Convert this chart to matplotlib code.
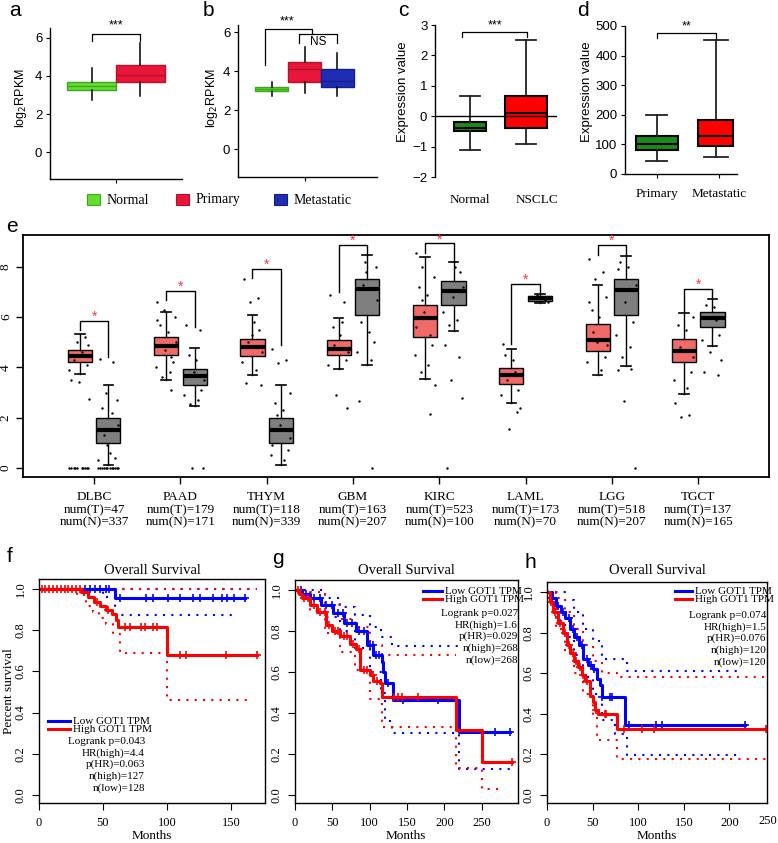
import matplotlib
matplotlib.use("Agg")
import matplotlib.pyplot as plt
import numpy as np
from matplotlib.lines import Line2D
from matplotlib.patches import Rectangle

W, H = 778, 843
SANS = ["Liberation Sans", "DejaVu Sans"]
SERIF = ["Liberation Serif", "DejaVu Serif"]
plt.rcParams["font.family"] = SANS
plt.rcParams["axes.linewidth"] = 1.0

# ---- data: panels a-d (whislo, q1, med, q3, whishi) ----
a_groups = ["Normal", "Primary"]
a_stats = [(2.75, 3.25, 3.45, 3.65, 4.4), (2.95, 3.7, 4.05, 4.55, 5.7)]
b_groups = ["Normal", "Primary", "Metastatic"]
b_stats = [(2.7, 3.0, 3.1, 3.2, 3.45), (2.9, 3.45, 4.1, 4.45, 5.25), (2.7, 3.2, 3.5, 4.1, 4.95)]
c_groups = ["Normal", "NSCLC"]
c_stats = [(-1.1, -0.5, -0.38, -0.2, 0.68), (-0.92, -0.38, 0.1, 0.68, 2.5)]
d_groups = ["Primary", "Metastatic"]
d_stats = [(45, 80, 100, 128, 198), (58, 95, 128, 182, 452)]

# ---- data: panel e ----
e_cancers = ["DLBC", "PAAD", "THYM", "GBM", "KIRC", "LAML", "LGG", "TGCT"]
e_num_t = [47, 179, 118, 163, 523, 173, 518, 137]
e_num_n = [337, 171, 339, 207, 100, 70, 207, 165]
e_tumor = [(3.72, 4.2, 4.45, 4.69, 5.33), (3.49, 4.49, 4.86, 5.22, 6.21), (3.69, 4.46, 4.82, 5.15, 6.08),
           (3.92, 4.49, 4.75, 5.09, 5.95), (3.53, 5.2, 5.95, 6.48, 8.38), (2.59, 3.36, 3.69, 3.98, 4.75),
           (3.69, 4.65, 5.11, 5.72, 7.28), (2.96, 4.2, 4.65, 5.13, 6.15)]
e_normal = [(0.1, 1.01, 1.5, 1.97, 3.29), (2.46, 3.29, 3.67, 3.92, 4.79), (0.1, 1.01, 1.5, 1.97, 3.29),
            (4.09, 6.08, 7.14, 7.5, 8.47), (5.46, 6.48, 7.04, 7.45, 8.21), (6.57, 6.65, 6.75, 6.84, 6.92),
            (4.05, 6.08, 7.1, 7.52, 8.45), (4.85, 5.62, 5.95, 6.22, 6.72)]
e_tumor_pts = [
    [0, 0, 0, 0, 0, 0, 0, 0, 0, 0, 2.76, 3.43, 3.5, 5.2, 5.0, 4.9, 4.3, 4.6, 4.1, 3.9],
    [6.6, 3.12, 6.3, 6.0, 5.7, 5.4, 4.2, 4.0, 3.8, 3.6, 5.0, 4.7, 5.9, 4.4],
    [7.5, 6.75, 6.6, 3.29, 3.4, 5.8, 5.5, 4.2, 3.9, 5.0, 4.6, 5.3],
    [6.88, 6.6, 2.9, 2.4, 5.6, 5.3, 4.3, 4.1, 5.8, 4.9, 4.6],
    [8.54, 2.16, 8.0, 7.6, 7.2, 6.9, 4.9, 4.5, 4.1, 3.8, 3.3, 6.2, 5.6, 5.3, 6.7],
    [4.95, 2.23, 1.54, 2.4, 4.5, 4.3, 3.1, 2.9, 3.8, 3.5],
    [8.3, 7.8, 7.5, 6.8, 6.3, 6.0, 4.4, 4.2, 3.9, 5.4, 4.9, 5.0, 6.6],
    [2.59, 2.1, 2.03, 6.0, 5.7, 5.5, 3.8, 3.5, 3.2, 4.8, 4.4],
]
e_normal_pts = [
    [0, 0, 0, 0, 0, 0, 0, 0, 0, 0, 0, 0, 4.35, 4.2, 3.0, 2.7, 2.4, 0.6, 0.4, 0.3, 2.2, 1.3, 1.7, 0.9],
    [5.68, 5.48, 0, 0, 4.5, 4.3, 3.1, 2.9, 2.7, 2.55, 3.5, 3.8],
    [4.75, 4.29, 4.16, 3.0, 2.6, 2.3, 0.7, 0.5, 0.3, 2.1, 1.2, 1.7, 0.9],
    [2.67, 0, 8.2, 8.0, 5.8, 5.4, 5.0, 4.6, 4.3, 7.3, 6.7, 7.8],
    [4.89, 4.42, 3.49, 2.8, 0, 8.0, 7.8, 6.2, 5.9, 5.7, 7.2, 6.8],
    [6.8, 6.7, 6.9, 6.6],
    [3.89, 3.95, 2.66, 0, 8.2, 8.0, 5.8, 5.3, 4.8, 4.4, 7.3, 6.6, 7.9],
    [3.82, 3.69, 4.6, 4.3, 6.5, 6.4, 5.3, 5.1, 5.9],
]
# significance brackets: (top, left leg end, right leg end)
e_brackets = [(5.86, 5.48, 4.4), (7.05, 6.68, 5.62), (7.91, 7.54, 4.89), (8.87, 7.01, 8.47),
              (8.94, 8.54, 8.21), (7.34, 4.95, 7.01), (8.87, 8.47, 8.47), (7.14, 6.18, 6.81)]

# ---- data: survival panels f, g, h ----
f_low_t = [0, 59, 161]
f_low_s = [1.0, 0.956, 0.956]
f_high_t = [0, 33, 38, 43, 48, 52, 57, 60, 62, 100, 170]
f_high_s = [1.0, 0.985, 0.96, 0.94, 0.92, 0.90, 0.88, 0.85, 0.815, 0.68, 0.68]
f_low_ci = ([0, 165], [1.0, 1.0], [0, 50, 59, 155], [1.0, 0.96, 0.874, 0.874])
f_high_ci = ([0, 170], [1.0, 1.0], [0, 30, 37, 42, 47, 52, 58, 63, 100, 166],
             [1.0, 0.97, 0.92, 0.89, 0.86, 0.83, 0.78, 0.69, 0.46, 0.46])
f_low_cens = [36, 40, 44, 48, 52, 55, 63, 84, 89, 101, 110, 120, 126, 136, 143, 147, 152, 161]
f_high_cens = [2, 5, 8, 11, 14, 17, 20, 23, 26, 29, 32, 45, 54, 67, 71, 80, 83, 89, 92, 110, 115, 146, 170]
f_stats = ["Logrank p=0.043", "HR(high)=4.4", "p(HR)=0.063", "n(high)=127", "n(low)=128"]

g_low_t = [0, 10, 20, 35, 51, 65, 82, 96, 105, 116, 118, 120, 129, 131, 220, 288]
g_low_s = [1.0, 0.98, 0.96, 0.93, 0.89, 0.84, 0.80, 0.73, 0.685, 0.65, 0.60, 0.545, 0.545, 0.464, 0.305, 0.305]
g_high_t = [0, 5, 10, 20, 30, 42, 50, 60, 73, 82, 87, 100, 105, 114, 116, 216, 250, 290]
g_high_s = [1.0, 0.98, 0.96, 0.93, 0.895, 0.83, 0.80, 0.775, 0.735, 0.715, 0.61, 0.585, 0.555, 0.545, 0.48,
            0.317, 0.159, 0.159]
g_low_ci = ([0, 20, 40, 60, 80, 100, 115, 130, 219], [1.0, 1.0, 0.96, 0.92, 0.88, 0.82, 0.77, 0.725, 0.725],
            [0, 20, 40, 60, 80, 100, 115, 120, 130, 220, 288],
            [1.0, 0.93, 0.87, 0.8, 0.72, 0.6, 0.5, 0.36, 0.30, 0.125, 0.125])
g_high_ci = ([0, 20, 40, 60, 80, 100, 116, 216], [1.0, 0.99, 0.93, 0.86, 0.82, 0.73, 0.685, 0.685],
             [0, 20, 40, 60, 80, 100, 116, 216, 250, 280], [1.0, 0.9, 0.79, 0.7, 0.61, 0.47, 0.333, 0.13, 0.027, 0.027])
g_low_cens = [8, 15, 25, 33, 42, 50, 58, 64, 70, 76, 85, 92, 100, 104, 108, 112, 124, 145, 192, 268, 288]
g_high_cens = [4, 12, 18, 26, 34, 40, 46, 53, 58, 66, 70, 78, 85, 92, 97, 104, 110, 132, 138, 143, 165, 290]
g_stats = ["Logrank p=0.027", "HR(high)=1.6", "p(HR)=0.029", "n(high)=268", "n(low)=268"]

h_low_t = [0, 5, 10, 15, 20, 25, 30, 35, 40, 45, 50, 55, 58, 60, 86, 217]
h_low_s = [1.0, 0.97, 0.93, 0.9, 0.87, 0.82, 0.78, 0.74, 0.67, 0.64, 0.62, 0.57, 0.54, 0.484, 0.345, 0.345]
h_high_t = [0, 3, 7, 12, 18, 22, 25, 30, 34, 38, 42, 47, 50, 53, 56, 77, 240]
h_high_s = [1.0, 0.95, 0.9, 0.85, 0.8, 0.74, 0.7, 0.66, 0.63, 0.59, 0.56, 0.49, 0.46, 0.42, 0.40, 0.325, 0.325]
h_low_ci = ([0, 10, 20, 30, 40, 50, 60, 85, 88, 214], [1.0, 1.0, 0.96, 0.9, 0.82, 0.76, 0.67, 0.67, 0.61, 0.61],
            [0, 10, 20, 30, 40, 50, 60, 75, 88, 214], [1.0, 0.86, 0.78, 0.69, 0.58, 0.5, 0.37, 0.3, 0.195, 0.195])
h_high_ci = ([0, 10, 20, 30, 40, 50, 60, 77, 240], [1.0, 0.97, 0.9, 0.82, 0.74, 0.66, 0.6, 0.583, 0.583],
             [0, 10, 20, 30, 40, 50, 55, 77, 240], [1.0, 0.82, 0.7, 0.6, 0.5, 0.4, 0.27, 0.178, 0.178])
h_low_cens = [6, 12, 18, 24, 28, 33, 38, 44, 48, 52, 60, 69, 71, 90, 120, 126, 217]
h_high_cens = [4, 9, 14, 20, 24, 28, 32, 36, 40, 44, 54, 64, 65, 84, 104, 117, 240]
h_stats = ["Logrank p=0.074", "HR(high)=1.5", "p(HR)=0.076", "n(high)=120", "n(low)=120"]

fig = plt.figure(figsize=(W / 100, H / 100), dpi=100)


def px_axes(x0, y0, x1, y1):
    return fig.add_axes([x0 / W, 1 - y1 / H, (x1 - x0) / W, (y1 - y0) / H])


def ftext(x, y, s, **kw):
    return fig.text(x / W, 1 - y / H, s, **kw)


def stats_dicts(stats):
    return [dict(whislo=s[0], q1=s[1], med=s[2], q3=s[3], whishi=s[4]) for s in stats]


def bracket(ax, x0, x1, top, l_end, r_end, lw=0.9):
    ax.plot([x0, x0, x1, x1], [l_end, top, top, r_end], color="black", lw=lw, clip_on=False)


# ---------------- panel a ----------------
ax = px_axes(50, 28, 182, 179)
a_face = ["#66dd33", "#e8173a"]
a_edge = ["#3aa81a", "#b5102c"]
bp = ax.bxp(stats_dicts(a_stats), positions=[0, 1], widths=1.0, patch_artist=True, showfliers=False,
            showcaps=False, whiskerprops=dict(color="black", lw=1.1), medianprops=dict(lw=1.0))
for i, box in enumerate(bp["boxes"]):
    box.set_facecolor(a_face[i]); box.set_edgecolor(a_edge[i]); box.set_linewidth(1.0)
    bp["medians"][i].set_color(a_edge[i])
ax.set_xlim(-0.85, 1.85); ax.set_ylim(-1.4, 6.5)
ax.set_yticks([0, 2, 4, 6]); ax.set_xticks([0.5]); ax.set_xticklabels([""])
for s in ["top", "right"]:
    ax.spines[s].set_visible(False)
ax.tick_params(labelsize=9.5, length=3, pad=2.5)
bracket(ax, 0, 1, 6.2, 5.8, 5.8)
ax.text(0.5, 6.3, "***", ha="center", va="bottom", fontsize=9)

# ---------------- panel b ----------------
ax = px_axes(238, 25, 377, 177)
b_face = ["#66dd33", "#e8173a", "#1f2db5"]
b_edge = ["#3aa81a", "#b5102c", "#141f85"]
bp = ax.bxp(stats_dicts(b_stats), positions=[0, 1, 2], widths=1.0, patch_artist=True, showfliers=False,
            showcaps=False, whiskerprops=dict(color="black", lw=1.1), medianprops=dict(lw=1.0))
for i, box in enumerate(bp["boxes"]):
    box.set_facecolor(b_face[i]); box.set_edgecolor(b_edge[i]); box.set_linewidth(1.0)
    bp["medians"][i].set_color(b_edge[i])
ax.set_xlim(-1.02, 3.2); ax.set_ylim(-1.43, 6.36)
ax.set_yticks([0, 2, 4, 6]); ax.set_xticks([1]); ax.set_xticklabels([""])
for s in ["top", "right"]:
    ax.spines[s].set_visible(False)
ax.tick_params(labelsize=9.5, length=3, pad=2.5)
bracket(ax, -0.2, 1.23, 6.14, 4.3, 5.9)
bracket(ax, 0.83, 1.98, 5.9, 5.44, 5.44)
ax.text(0.47, 6.25, "***", ha="center", va="bottom", fontsize=9)
ax.text(1.41, 5.5, "NS", ha="center", va="center", fontsize=8.5)

# legend row for a/b
leg_items = [(87, "#66dd33", "#3aa81a", "Normal"), (176, "#e8173a", "#b5102c", "Primary"),
             (274, "#1f2db5", "#141f85", "Metastatic")]
for x0, fc, ec, lab in leg_items:
    fig.add_artist(Rectangle((x0 / W, 1 - 205 / H), 13 / W, 11 / H, transform=fig.transFigure,
                             facecolor=fc, edgecolor=ec, lw=0.8))
    ftext(x0 + 20, 200, lab, family=SERIF, fontsize=10, ha="left", va="center")

# ---------------- panel c ----------------
ax = px_axes(435, 25, 557, 177)
bp = ax.bxp(stats_dicts(c_stats), positions=[0, 1], widths=[0.57, 0.75], patch_artist=True, showfliers=False,
            capwidths=[0.36, 0.36], whiskerprops=dict(color="#222222", lw=1.3),
            capprops=dict(color="#222222", lw=1.3), medianprops=dict(color="black", lw=1.5))
for box, fc in zip(bp["boxes"], ["#1a8a1a", "#ff0000"]):
    box.set_facecolor(fc); box.set_edgecolor("black"); box.set_linewidth(1.5)
ax.axhline(0, color="black", lw=1.0)
ax.set_xlim(-0.63, 1.55); ax.set_ylim(-2, 3)
ax.set_yticks([-2, -1, 0, 1, 2, 3])
ax.set_xticks([0, 1.2]); ax.set_xticklabels(c_groups, family=SERIF, fontsize=9.5)
for s in ["top", "right", "bottom"]:
    ax.spines[s].set_visible(False)
ax.tick_params(axis="y", labelsize=9.5, length=3, pad=2.5)
ax.tick_params(axis="x", length=0, pad=12)
bracket(ax, -0.14, 1.02, 2.76, 2.6, 2.6)
ax.text(0.44, 2.8, "***", ha="center", va="bottom", fontsize=9)

# ---------------- panel d ----------------
ax = px_axes(625, 26, 737, 174)
bp = ax.bxp(stats_dicts(d_stats), positions=[0, 1], widths=[0.71, 0.6], patch_artist=True, showfliers=False,
            capwidths=[0.36, 0.4], whiskerprops=dict(color="#222222", lw=1.3),
            capprops=dict(color="#222222", lw=1.3), medianprops=dict(color="black", lw=1.5))
for box, fc in zip(bp["boxes"], ["#1a8a1a", "#ff0000"]):
    box.set_facecolor(fc); box.set_edgecolor("black"); box.set_linewidth(1.5)
ax.set_xlim(-0.54, 1.36); ax.set_ylim(0, 500)
ax.set_yticks([0, 100, 200, 300, 400, 500])
ax.set_xticks([0, 1.05]); ax.set_xticklabels(d_groups, family=SERIF, fontsize=9.5)
for s in ["top", "right"]:
    ax.spines[s].set_visible(False)
ax.tick_params(axis="y", labelsize=9.5, length=3, pad=2.5)
ax.tick_params(axis="x", length=3, pad=7)
bracket(ax, 0, 1, 475, 460, 460)
ax.text(0.5, 478, "**", ha="center", va="bottom", fontsize=9)

# y labels a-d
ftext(21, 98, "log$_2$RPKM", rotation=90, ha="center", va="center", fontsize=9)
ftext(212, 98, "log$_2$RPKM", rotation=90, ha="center", va="center", fontsize=9)
ftext(403, 92, "Expression value", rotation=90, ha="center", va="center", fontsize=9.5)
ftext(587, 92, "Expression value", rotation=90, ha="center", va="center", fontsize=9.5)

# ---------------- panel e ----------------
ax = px_axes(23, 235, 769, 477)
pos = np.arange(1, len(e_cancers) + 1)
jit = np.array([-0.1, 0.06, -0.03, 0.1, -0.07, 0.02, 0.08, -0.12, 0.04, -0.05, 0.11, -0.01])
for k in range(len(e_cancers)):
    for stats, pts, off, fc in [(e_tumor[k], e_tumor_pts[k], -0.165, "#f06a6a"),
                                (e_normal[k], e_normal_pts[k], 0.165, "#7f7f7f")]:
        bp = ax.bxp(stats_dicts([stats]), positions=[pos[k] + off], widths=0.28, patch_artist=True,
                    showfliers=False, capwidths=[0.11], whiskerprops=dict(color="black", lw=1.0),
                    capprops=dict(color="black", lw=1.2), medianprops=dict(color="black", lw=3),
                    manage_ticks=False)
        bp["boxes"][0].set_facecolor(fc); bp["boxes"][0].set_edgecolor("black"); bp["boxes"][0].set_linewidth(1.0)
        xs = pos[k] + off + jit[np.arange(len(pts)) % len(jit)]
        ax.scatter(xs, pts, s=3, color="black", zorder=3, linewidths=0)
    top, l_end, r_end = e_brackets[k]
    bracket(ax, pos[k] - 0.165, pos[k] + 0.165, top, l_end, r_end, lw=1.0)
    ax.text(pos[k], top - 0.12, "*", color="#ff3333", ha="center", va="bottom", fontsize=10)
ax.set_xlim(0.177, 8.82); ax.set_ylim(-0.36, 9.27)
ax.set_yticks([0, 2, 4, 6, 8])
ax.set_yticklabels(["0", "2", "4", "6", "8"], rotation=90, va="center", family=SERIF, fontsize=9.5)
ax.set_xticks(pos)
ax.set_xticklabels([f"{c}\nnum(T)={t}\nnum(N)={n}" for c, t, n in zip(e_cancers, e_num_t, e_num_n)],
                   family=SERIF, fontsize=9.5, linespacing=1.1)
ax.tick_params(axis="x", length=5, pad=5, width=1.0)
ax.tick_params(axis="y", length=5, pad=3, width=1.0)
for s in ax.spines.values():
    s.set_linewidth(1.3)


# ---------------- panels f, g, h ----------------
def surv_panel(box, low_t, low_s, high_t, high_s, low_ci, high_ci, low_c, high_c, xlim, xticks):
    ax = px_axes(*box)
    dots = (0, (1, 3))
    for ci, col in [(low_ci, "#0000ff"), (high_ci, "#ff0000")]:
        ax.step(ci[0], ci[1], where="post", color=col, lw=1.5, ls=dots)
        ax.step(ci[2], ci[3], where="post", color=col, lw=1.5, ls=dots)
    for t, s, c, col in [(low_t, low_s, low_c, "#0000ff"), (high_t, high_s, high_c, "#ff0000")]:
        ax.step(t, s, where="post", color=col, lw=2.2)
        idx = np.searchsorted(t, c, side="right") - 1
        ax.plot(c, np.asarray(s)[idx], ls="none", marker="+", ms=6, mew=1.2, color=col)
    ax.set_xlim(*xlim); ax.set_ylim(-0.04, 1.05)
    ax.set_xticks(xticks)
    ax.set_yticks([0, 0.2, 0.4, 0.6, 0.8, 1.0])
    ax.set_yticklabels(["0.0", "0.2", "0.4", "0.6", "0.8", "1.0"], rotation=90, va="center", family=SERIF, fontsize=9)
    ax.set_xticklabels([str(v) for v in xticks], family=SERIF, fontsize=9)
    ax.tick_params(length=5, pad=5)
    ax.tick_params(axis="y", pad=4)
    return ax


surv_panel((39, 579, 265, 803), f_low_t, f_low_s, f_high_t, f_high_s, f_low_ci, f_high_ci,
           f_low_cens, f_high_cens, (0, 176.6), [0, 50, 100, 150])
surv_panel((295, 580, 518, 803), g_low_t, g_low_s, g_high_t, g_high_s, g_low_ci, g_high_ci,
           g_low_cens, g_high_cens, (0, 298.5), [0, 50, 100, 150, 200, 250])
surv_panel((547, 582, 767, 803), h_low_t, h_low_s, h_high_t, h_high_s, h_low_ci, h_high_ci,
           h_low_cens, h_high_cens, (0, 241.2), [0, 50, 100, 150, 200])
# the last month label of panel h sits just past the right edge of its box
ftext(777, 821, "250", family=SERIF, fontsize=9, ha="right", va="center")

# titles, legends, axis labels
for cx in (152, 406, 657):
    ftext(cx, 571, "Overall Survival", family=SERIF, fontsize=10.5, ha="center", va="center")
for cx in (152, 406, 657):
    ftext(cx, 836, "Months", family=SERIF, fontsize=9.5, ha="center", va="center")
ftext(9, 691, "Percent survival", family=SERIF, fontsize=9.5, rotation=90, ha="center", va="center")

legends = [(48, 70, 721, 145, 741, f_stats), (423, 442, 591, 518, 613, g_stats), (675, 692, 591, 766, 615, h_stats)]
for lx0, lx1, ly, sx, sy, stats in legends:
    for dy, col, lab in [(0, "#0000ff", "Low GOT1 TPM"), (8, "#ff0000", "High GOT1 TPM")]:
        fig.add_artist(Line2D([lx0 / W, lx1 / W], [1 - (ly + dy) / H] * 2, transform=fig.transFigure,
                              color=col, lw=2.2))
        ftext(lx1 + 3, ly + dy, lab, family=SERIF, fontsize=8, ha="left", va="center")
    for i, s in enumerate(stats):
        ftext(sx, sy + i * 11.8, s, family=SERIF, fontsize=8, ha="right", va="center")

# panel letters
for lab, x, y in [("a", 15, 11), ("b", 208, 11), ("c", 403, 11), ("d", 583, 11), ("e", 12, 227),
                  ("f", 10, 557), ("g", 278, 558), ("h", 530, 562)]:
    ftext(x, y, lab, fontsize=15, ha="center", va="center")

fig.savefig("out.png", dpi=100)
